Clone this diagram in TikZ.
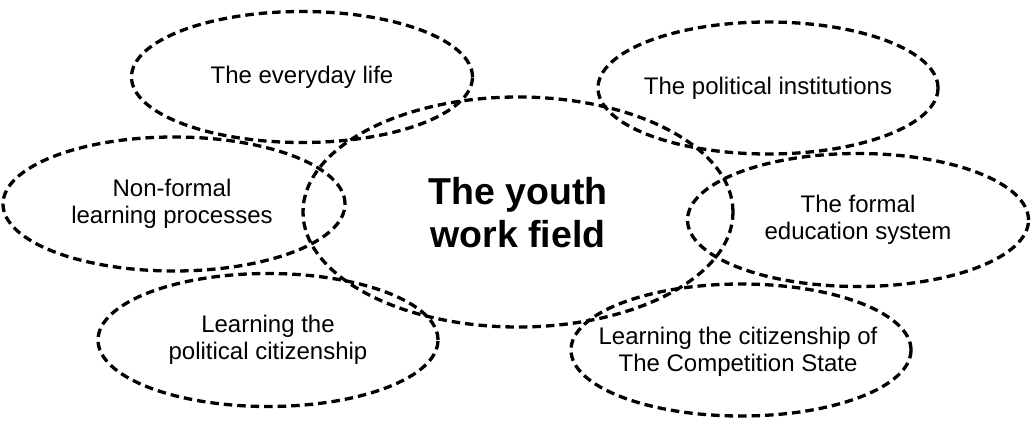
\documentclass[tikz,border=0pt]{standalone}
\usepackage{fontspec}
\setmainfont{Liberation Sans}
\usetikzlibrary{shapes.geometric}
\tikzset{
  bubble/.style={ellipse, draw=black, line width=3.3pt, dash pattern=on 8.5pt off 5pt,
    inner sep=0pt},
  txt/.style={align=center, inner sep=0pt, font=\fontsize{24}{27.5}\selectfont},
  coretxt/.style={align=center, inner sep=0pt, font=\fontsize{37.5}{43}\selectfont\bfseries}
}
\begin{document}
\begin{tikzpicture}[x=1pt,y=-1pt]
\useasboundingbox (0,0) rectangle (1036,428);
\node[bubble, minimum width=341pt, minimum height=131pt] (life) at (302,77) {};
\node[bubble, minimum width=340pt, minimum height=132pt] (pol) at (768,88) {};
\node[bubble, minimum width=342pt, minimum height=134pt] (nonf) at (174,204) {};
\node[bubble, minimum width=341pt, minimum height=133pt] (formal) at (858,220) {};
\node[bubble, minimum width=340pt, minimum height=133pt] (lpc) at (268,340) {};
\node[bubble, minimum width=340pt, minimum height=132pt] (comp) at (741,350) {};
\node[bubble, minimum width=430pt, minimum height=230pt] (youth) at (518,212) {};
\node[txt] (lifet) at (life.center) {The everyday life};
\node[txt] (polt) at (pol.center) {The political institutions};
\node[txt] (nonft) at ([xshift=-2pt]nonf.center) {Non-formal\\learning processes};
\node[txt] (formalt) at (formal.center) {The formal\\education system};
\node[txt] (lpct) at (lpc.center) {Learning the\\political citizenship};
\node[txt] (compt) at ([xshift=-3pt,yshift=-2pt]comp.center) {Learning the citizenship of\\The Competition State};
\node[coretxt] (youtht) at ([yshift=-1pt]youth.center) {The youth\\work field};
\end{tikzpicture}
\end{document}
